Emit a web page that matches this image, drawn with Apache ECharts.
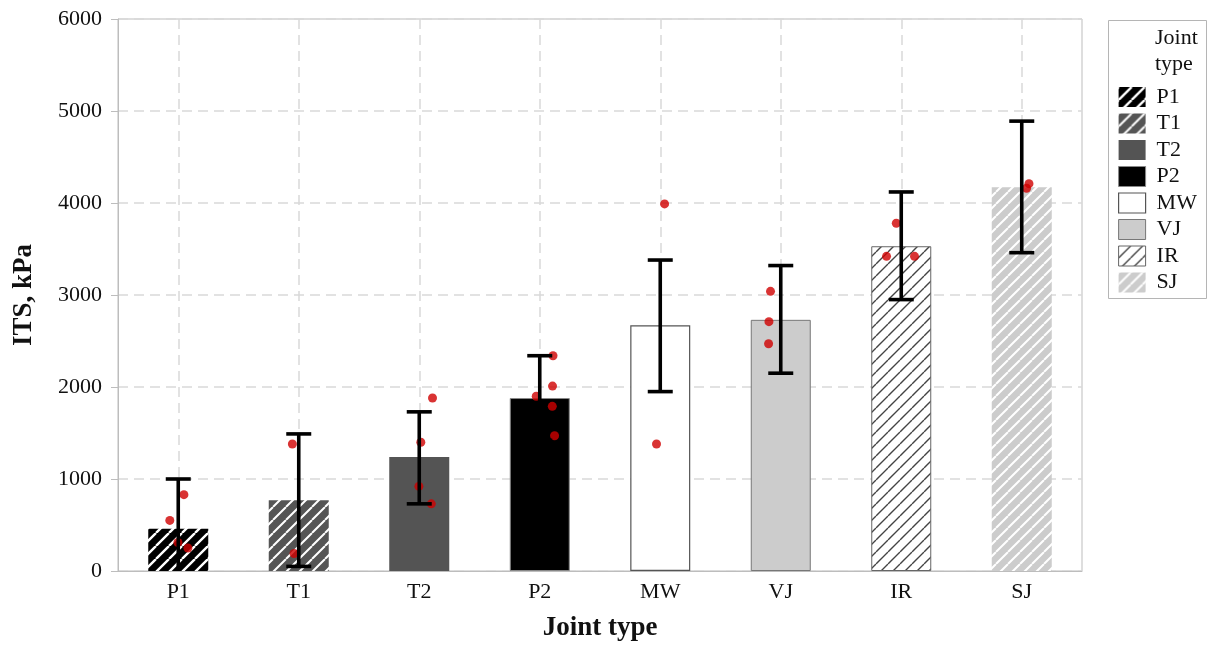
<!DOCTYPE html>
<html>
<head>
<meta charset="utf-8">
<script src="https://cdn.jsdelivr.net/npm/echarts@6/dist/echarts.min.js"></script>
<style>
html,body{margin:0;padding:0;background:#fff;}
#chart{width:1208px;height:648px;}
</style>
</head>
<body>
<div id="chart"></div>
<script>
// ---- data ----
const categories = ['P1', 'T1', 'T2', 'P2', 'MW', 'VJ', 'IR', 'SJ'];
const means      = [460, 770, 1240, 1880, 2670, 2730, 3530, 4170];
const errLow     = [-80, 50, 730, 1420, 1950, 2150, 2950, 3460];
const errHigh    = [1000, 1490, 1730, 2340, 3380, 3320, 4120, 4890];
const yTickValues = [0, 1000, 2000, 3000, 4000, 5000, 6000];

// individual measurements (category index, horizontal jitter in category units, value)
const pointGroup  = [0, 0, 0, 0, 1, 1, 2, 2, 2, 2, 3, 3, 3, 3, 3, 4, 4, 5, 5, 5, 6, 6, 6, 7, 7];
const pointJitter = [-0.07, 0.047, -0.003, 0.08, -0.053, -0.039, 0.11, 0.013, -0.003, 0.1,
                     0.11, 0.106, -0.029, 0.104, 0.123, 0.036, -0.031, -0.085, -0.098, -0.101,
                     -0.041, -0.122, 0.11, 0.06, 0.04];
const pointValue  = [550, 830, 310, 250, 1380, 190, 1880, 1400, 920, 730,
                     2340, 2010, 1900, 1790, 1470, 3990, 1380, 3040, 2710, 2470,
                     3780, 3420, 3420, 4210, 4160];

// ---- styles ----
function stripes(bg, fg, size, lw) {
  const c = document.createElement('canvas');
  c.width = size; c.height = size;
  const ctx = c.getContext('2d');
  ctx.fillStyle = bg; ctx.fillRect(0, 0, size, size);
  ctx.strokeStyle = fg; ctx.lineWidth = lw;
  ctx.beginPath();
  for (const k of [-size, 0, size]) {
    ctx.moveTo(k, size); ctx.lineTo(k + size, 0);
  }
  ctx.stroke();
  return { image: c, repeat: 'repeat' };
}
const barStyles = {
  P1: { color: stripes('#000000', '#ffffff', 13, 2.4) },
  T1: { color: stripes('#555555', '#ffffff', 13, 2) },
  T2: { color: '#545454' },
  P2: { color: '#000000', borderColor: '#888888', borderWidth: 1 },
  MW: { color: '#ffffff', borderColor: '#555555', borderWidth: 1.2 },
  VJ: { color: '#cccccc', borderColor: '#777777', borderWidth: 1 },
  IR: { color: stripes('#ffffff', '#444444', 12, 1.4), borderColor: '#666666', borderWidth: 1 },
  SJ: { color: stripes('#cccccc', '#ffffff', 12, 2) }
};

const FONT = '"Liberation Serif", "DejaVu Serif", serif';
const GRID_LINE = { color: '#d9d9d9', width: 1.5, type: [10, 6] };

const barSeries = categories.map((name, i) => ({
  name: name,
  type: 'bar',
  xAxisIndex: 0,
  barWidth: 60,
  barGap: '-100%',
  itemStyle: barStyles[name],
  data: categories.map((c, j) => (j === i ? means[i] : '-')),
  z: 2
}));

const errData = categories.map((c, i) => [i, errLow[i], errHigh[i]]);
const pointData = pointValue.map((v, k) => [pointGroup[k] + pointJitter[k], v]);
// half-category slots, used only to place the vertical grid lines on category centres
const halfSlots = Array.from({ length: 2 * categories.length + 1 }, (_, i) => 's' + i);

function renderErr(params, api) {
  const x = api.value(0);
  const lo = api.coord([x, api.value(1)]);
  const hi = api.coord([x, api.value(2)]);
  const cap = 12.5;
  const st = { stroke: '#000', lineWidth: 3.6, fill: null };
  return {
    type: 'group',
    children: [
      { type: 'line', shape: { x1: lo[0], y1: lo[1], x2: hi[0], y2: hi[1] }, style: st },
      { type: 'line', shape: { x1: lo[0] - cap, y1: lo[1], x2: lo[0] + cap, y2: lo[1] }, style: st },
      { type: 'line', shape: { x1: hi[0] - cap, y1: hi[1], x2: hi[0] + cap, y2: hi[1] }, style: st }
    ]
  };
}

const chart = echarts.init(document.getElementById('chart'), null, { renderer: 'canvas' });
chart.setOption({
  animation: false,
  backgroundColor: '#ffffff',
  grid: { left: 118, right: 126, top: 19, bottom: 77, show: true, borderColor: '#bdbdbd', borderWidth: 1 },
  legend: {
    left: 1113, top: 81,
    orient: 'vertical',
    itemWidth: 27, itemHeight: 20, itemGap: 4.5,
    icon: 'rect',
    selectedMode: false,
    textStyle: { fontFamily: FONT, fontSize: 22, lineHeight: 20, color: '#111', padding: [0, 0, 0, 6] },
    data: categories.map(n => ({ name: n, itemStyle: barStyles[n] }))
  },
  graphic: [
    { type: 'rect', left: 1108, top: 20, shape: { width: 98, height: 278 },
      style: { fill: '#fff', stroke: '#b5b5b5', lineWidth: 1 }, z: -1 },
    { type: 'text', left: 1155, top: 25,
      style: { text: 'Joint\ntype', font: '22px ' + FONT, fill: '#111', lineHeight: 26 } }
  ],
  xAxis: [
    {
      type: 'category', data: categories,
      name: 'Joint type', nameLocation: 'middle', nameGap: 44,
      nameTextStyle: { fontFamily: FONT, fontSize: 27, fontWeight: 'bold', color: '#111' },
      axisLine: { onZero: false, lineStyle: { color: '#bdbdbd', width: 1 } },
      axisTick: { alignWithLabel: true, length: 5, lineStyle: { color: '#bdbdbd' } },
      axisLabel: { fontFamily: FONT, fontSize: 22, color: '#111', margin: 10 },
      splitLine: { show: false }
    },
    { type: 'value', min: -0.5, max: 7.5, show: false, splitLine: { show: false } },
    {
      type: 'category', data: halfSlots, boundaryGap: false, position: 'bottom',
      axisLine: { show: false }, axisTick: { show: false }, axisLabel: { show: false },
      splitLine: { show: true, interval: (idx) => idx % 2 === 1, lineStyle: GRID_LINE }
    }
  ],
  yAxis: {
    type: 'value', min: yTickValues[0], max: yTickValues[yTickValues.length - 1], interval: 1000,
    name: 'ITS, kPa', nameLocation: 'middle', nameGap: 80,
    nameTextStyle: { fontFamily: FONT, fontSize: 27, fontWeight: 'bold', color: '#111' },
    axisLine: { show: true, onZero: false, lineStyle: { color: '#bdbdbd', width: 1 } },
    axisTick: { show: true, length: 7, lineStyle: { color: '#bdbdbd' } },
    axisLabel: { fontFamily: FONT, fontSize: 22, color: '#111', margin: 16, formatter: (v) => String(v) },
    splitLine: { show: true, lineStyle: GRID_LINE }
  },
  series: barSeries.concat([
    {
      name: 'points', type: 'scatter', xAxisIndex: 1, yAxisIndex: 0,
      symbol: 'circle', symbolSize: 9,
      itemStyle: { color: '#d00000' },
      data: pointData, z: 3
    },
    {
      name: 'error', type: 'custom', xAxisIndex: 0, yAxisIndex: 0,
      renderItem: renderErr, clip: true,
      encode: { x: 0, y: [1, 2] },
      data: errData, z: 4
    }
  ])
});
</script>
</body>
</html>
